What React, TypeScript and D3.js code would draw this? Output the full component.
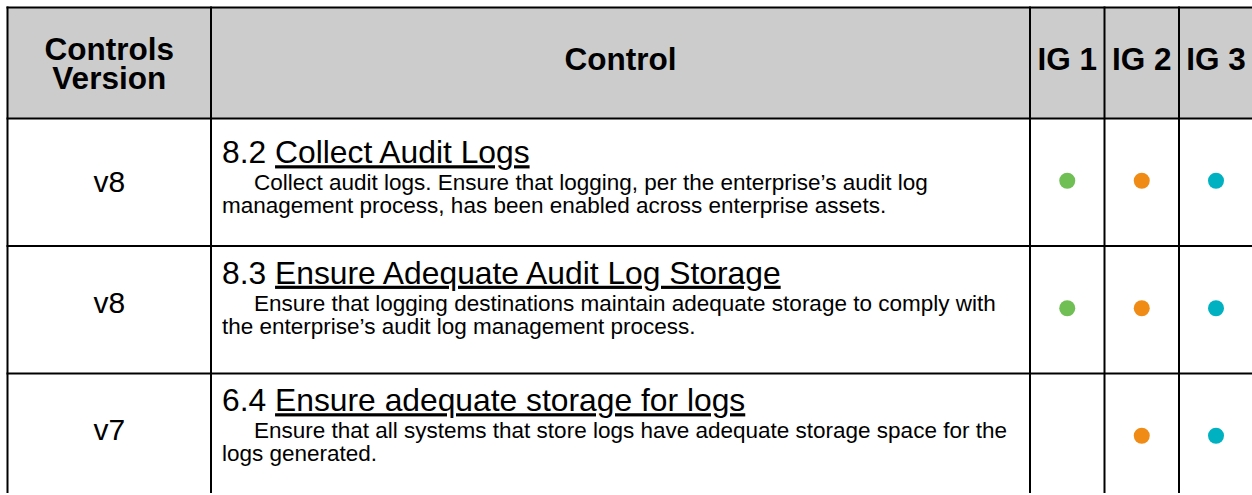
import React from "react";
import * as d3 from "d3";

// ---- data ----
const headers = ["Controls\nVersion", "Control", "IG 1", "IG 2", "IG 3"];
const versions = ["v8", "v8", "v7"];
const controlIds = ["8.2", "8.3", "6.4"];
const controlTitles = [
  "Collect Audit Logs",
  "Ensure Adequate Audit Log Storage",
  "Ensure adequate storage for logs",
];
const descFirstLines = [
  "Collect audit logs. Ensure that logging, per the enterprise\u2019s audit log",
  "Ensure that logging destinations maintain adequate storage to comply with",
  "Ensure that all systems that store logs have adequate storage space for the",
];
const descSecondLines = [
  "management process, has been enabled across enterprise assets.",
  "the enterprise\u2019s audit log management process.",
  "logs generated.",
];
const ig1 = [true, true, false];
const ig2 = [true, true, true];
const ig3 = [true, true, true];
const igColors = ["#70bf54", "#f08c15", "#00b2c1"];

// ---- layout ----
const W = 1252;
const H = 495;
const left = 7.5;
const top = 7.5;
const colWidths = [203.5, 819, 74.5, 74.5, 74];
const headerH = 111;
const rowH = 127.5;
const bottomClip = 493;
const textShift = [0, -7, -7];
const font = "'Liberation Sans', Arial, sans-serif";

export default function App() {
  const colEdges = [left, ...Array.from(d3.cumsum(colWidths)).map((c) => left + c)];
  const y = d3
    .scaleBand<number>()
    .domain(d3.range(versions.length))
    .range([top + headerH, top + headerH + rowH * versions.length])
    .padding(0);
  const colCenter = (i: number) => (colEdges[i] + colEdges[i + 1]) / 2;
  const igs = [ig1, ig2, ig3];
  const bodyTop = top + headerH;

  return (
    <svg
      width={W}
      height={H}
      style={{ position: "absolute", left: 0, top: 0, display: "block", background: "#fff" }}
    >
      {/* header background */}
      <rect x={left} y={top} width={colEdges[5] - left} height={headerH} fill="#cccccc" />

      {/* header texts */}
      {headers.map((h, i) => {
        const lines = h.split("\n");
        const baseY = lines.length === 2 ? top + 52 : top + 62;
        return (
          <text
            key={i}
            x={colCenter(i)}
            y={baseY}
            textAnchor="middle"
            fontFamily={font}
            fontWeight="bold"
            fontSize={31.5}
            fill="#000"
          >
            {lines.map((l, j) => (
              <tspan key={j} x={colCenter(i)} dy={j === 0 ? 0 : 29.5}>
                {l}
              </tspan>
            ))}
          </text>
        );
      })}

      {/* rows */}
      {versions.map((v, r) => {
        const y0 = y(r)!;
        const cy = y0 + y.bandwidth() / 2;
        const ty = cy + textShift[r];
        return (
          <g key={r}>
            <text
              x={colCenter(0)}
              y={ty + 10}
              textAnchor="middle"
              fontFamily={font}
              fontSize={30}
              fill="#000"
            >
              {v}
            </text>
            <text x={colEdges[1] + 11} y={ty - 19} fontFamily={font} fontSize={31.8} fill="#000">
              {controlIds[r] + " "}
              <tspan textDecoration="underline" style={{ textDecoration: "underline" }}>
                {controlTitles[r]}
              </tspan>
            </text>
            <text x={colEdges[1] + 43} y={ty + 8} fontFamily={font} fontSize={22.5} fill="#000">
              {descFirstLines[r]}
            </text>
            <text x={colEdges[1] + 11} y={ty + 31} fontFamily={font} fontSize={22.5} fill="#000">
              {descSecondLines[r]}
            </text>
            {igs.map((arr, k) =>
              arr[r] ? (
                <circle key={k} cx={colCenter(2 + k)} cy={cy - 1.5} r={8} fill={igColors[k]} />
              ) : null
            )}
          </g>
        );
      })}

      {/* grid lines */}
      <g stroke="#000" strokeWidth={2} fill="none">
        <line x1={left - 1} x2={colEdges[5] + 1} y1={top} y2={top} />
        <line x1={left - 1} x2={colEdges[5] + 1} y1={bodyTop} y2={bodyTop} />
        {versions.slice(1).map((_, r) => (
          <line key={r} x1={left - 1} x2={colEdges[5] + 1} y1={y(r + 1)!} y2={y(r + 1)!} />
        ))}
        {colEdges.map((x, i) => (
          <line key={i} x1={x} x2={x} y1={top - 1} y2={bottomClip} />
        ))}
      </g>
    </svg>
  );
}
